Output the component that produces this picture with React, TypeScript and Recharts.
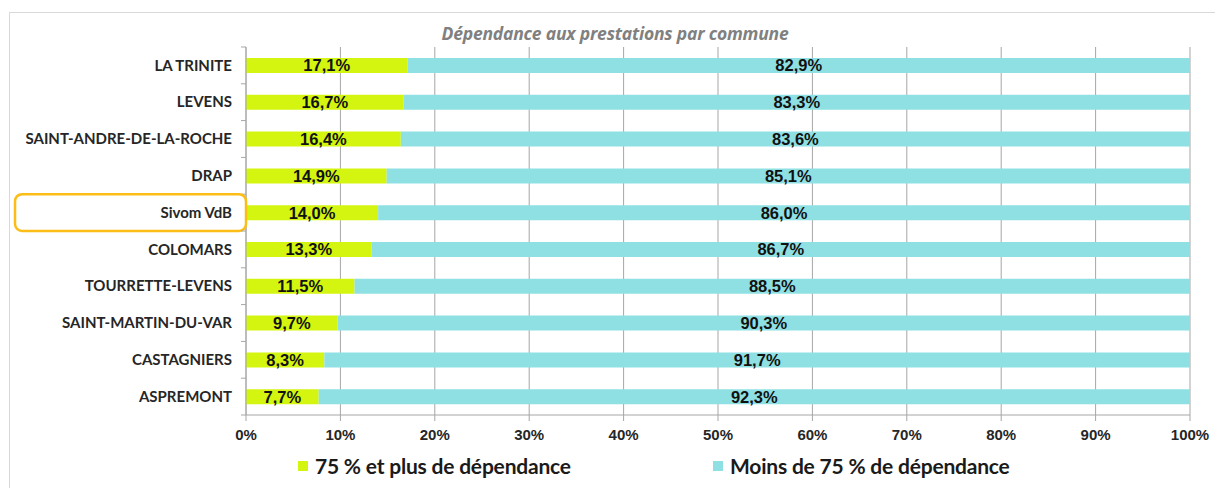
import React from 'react';
import { BarChart, Bar, XAxis, YAxis, CartesianGrid, LabelList } from 'recharts';

// Dépendance aux prestations par commune (share of households, %)
const communes = [
  'LA TRINITE',
  'LEVENS',
  'SAINT-ANDRE-DE-LA-ROCHE',
  'DRAP',
  'Sivom VdB',
  'COLOMARS',
  'TOURRETTE-LEVENS',
  'SAINT-MARTIN-DU-VAR',
  'CASTAGNIERS',
  'ASPREMONT',
];
const plus75 = [17.1, 16.7, 16.4, 14.9, 14.0, 13.3, 11.5, 9.7, 8.3, 7.7];
const moins75 = [82.9, 83.3, 83.6, 85.1, 86.0, 86.7, 88.5, 90.3, 91.7, 92.3];
const xTicks = [0, 10, 20, 30, 40, 50, 60, 70, 80, 90, 100];

const seriesNames = ['75 % et plus de dépendance', 'Moins de 75 % de dépendance'];
const GREEN = '#d4f50f';
const CYAN = '#8ee0e3';
const highlighted = 'Sivom VdB';

const data = communes.map((c, i) => ({ commune: c, plus: plus75[i], moins: moins75[i] }));

const W = 1215;
const H = 488;
const TOP = 47;
const BOTTOM_AXIS = 415;
const BAND = (BOTTOM_AXIS - TOP) / communes.length;

const pct = (v: any) => `${Number(v).toFixed(1).replace('.', ',')}%`;

const CommuneTick = (props: any) => {
  const { x, y, payload, index } = props;
  const axisX = x + 14;
  return (
    <g>
      {payload.value === highlighted && (
        <rect x={15} y={y - BAND / 2} width={axisX - 15} height={BAND} rx={7} fill="none" stroke="#fbbd16" strokeWidth={2.5} />
      )}
      {index === 0 && <line x1={axisX - 5} x2={axisX} y1={y - BAND / 2} y2={y - BAND / 2} stroke="#a6a6a6" />}
      <line x1={axisX - 5} x2={axisX} y1={y + BAND / 2} y2={y + BAND / 2} stroke="#a6a6a6" />
      <text x={x} y={y} dy="0.35em" textAnchor="end" fontFamily="Lato, sans-serif" fontWeight={700} fontSize={15} fill="#262626">
        {payload.value}
      </text>
    </g>
  );
};

const labelStyle = { fill: '#111', fontFamily: '"Liberation Sans", Arial, sans-serif', fontWeight: 700, fontSize: 16.5 };

const App: React.FC = () => {
  return (
    <div style={{ position: 'absolute', left: 0, top: 0, width: W, height: H, background: '#fff', overflow: 'hidden' }}>
      <div style={{ position: 'absolute', left: 9, top: 12, width: W, height: H, borderLeft: '1px solid #d9d9d9', borderTop: '1px solid #d9d9d9' }} />
      <div style={{ position: 'absolute', left: 0, width: 1230, top: 21, textAlign: 'center', fontFamily: '"Open Sans", sans-serif', fontStyle: 'italic', fontWeight: 700, fontSize: 17.5, color: '#808080', letterSpacing: -0.2 }}>
        Dépendance aux prestations par commune
      </div>
      <div style={{ position: 'absolute', left: 0, top: 0 }}>
        <BarChart width={W} height={H} data={data} layout="vertical" barSize={15} margin={{ top: TOP, right: 25, bottom: 43, left: 0 }}>
          <CartesianGrid horizontal={false} vertical stroke="#a6a6a6" />
          <XAxis
            type="number"
            domain={[0, 100]}
            ticks={xTicks}
            tickFormatter={(v) => `${v}%`}
            axisLine={{ stroke: '#a6a6a6' }}
            tickLine={{ stroke: '#a6a6a6' }}
            tickSize={6}
            tickMargin={8}
            height={30}
            tick={{ fontFamily: '"Liberation Sans", Arial, sans-serif', fontWeight: 700, fontSize: 15, fill: '#262626' }}
          />
          <YAxis
            type="category"
            dataKey="commune"
            width={246}
            axisLine={{ stroke: '#a6a6a6' }}
            tickLine={false}
            tickSize={5}
            tickMargin={9}
            tick={<CommuneTick />}
            interval={0}
          />
          <Bar dataKey="plus" stackId="a" fill={GREEN} isAnimationActive={false}>
            <LabelList dataKey="plus" position="center" formatter={pct} {...labelStyle} />
          </Bar>
          <Bar dataKey="moins" stackId="a" fill={CYAN} isAnimationActive={false}>
            <LabelList dataKey="moins" position="center" formatter={pct} {...labelStyle} />
          </Bar>
        </BarChart>
      </div>
      {seriesNames.map((name, i) => (
        <div
          key={name}
          style={{ position: 'absolute', left: i === 0 ? 298 : 713, top: 453, display: 'flex', alignItems: 'center', fontFamily: 'Lato, sans-serif', fontWeight: 700, fontSize: 21, letterSpacing: -0.2, color: '#1a1a1a' }}
        >
          <span style={{ display: 'inline-block', width: 10, height: 10, background: i === 0 ? GREEN : CYAN, marginRight: 7 }} />
          {name}
        </div>
      ))}
    </div>
  );
};

export default App;
